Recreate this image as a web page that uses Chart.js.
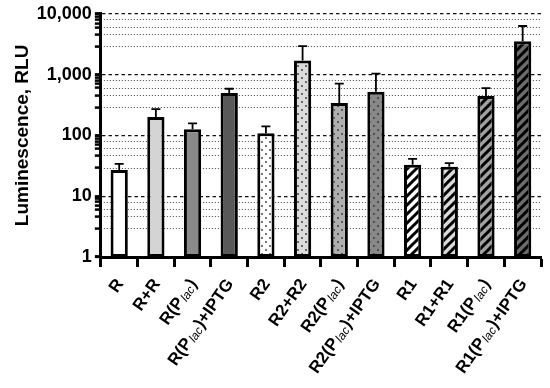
<!DOCTYPE html>
<html>
<head>
<meta charset="utf-8">
<script src="https://cdn.jsdelivr.net/npm/chart.js@4/dist/chart.umd.min.js"></script>
<style>
  html, body { margin: 0; padding: 0; background: #fff; }
  #wrap { width: 550px; height: 388px; }
</style>
</head>
<body>
<div id="wrap"><canvas id="lumChart"></canvas></div>
<script>
/* ========= DATA ========= */

// {..} marks the italic subscript part of a label
const categories = [
  "R", "R+R", "R(P{lac})", "R(P{lac})+IPTG",
  "R2", "R2+R2", "R2(P{lac})", "R2(P{lac})+IPTG",
  "R1", "R1+R1", "R1(P{lac})", "R1(P{lac})+IPTG"
];
const means = [27, 200, 126, 500, 108, 1700, 340, 520, 33, 30.5, 445, 3550];
const errUp = [7, 70, 32, 85, 33, 1240, 370, 520, 8, 4.5, 155, 2750];

const majorTicks = [1, 10, 100, 1000, 10000];
const minorTicks = [2.9, 4.6, 6, 7, 8, 9];
const minorGrid = [2.9, 4.6, 6, 8];
const tickLabels = ["1", "10", "100", "1,000", "10,000"];

const fillColors = ["#ffffff", "#d4d4d4", "#8a8a8a", "#595959",
                    "#ffffff", "#dcdcdc", "#afafaf", "#888888",
                    "#ffffff", "#dadada", "#a0a0a0", "#6c6c6c"];
const fillKinds = ["none", "none", "none", "none",
                   "dots", "dots", "dots", "dots",
                   "stripes", "stripes", "stripes", "stripes"];

const FONT = "Arial, 'Liberation Sans', sans-serif";


/* ========= PATTERNS ========= */

function makeFill(base, kind) {
  if (kind === "none") return base;
  const c = document.createElement("canvas");
  const s = kind === "dots" ? 8 : 9;
  c.width = s; c.height = s;
  const g = c.getContext("2d");
  g.fillStyle = base;
  g.fillRect(0, 0, s, s);
  if (kind === "dots") {
    g.fillStyle = "#333";
    [[2, 2], [6, 6]].forEach(p => {
      g.beginPath();
      g.arc(p[0], p[1], 0.9, 0, Math.PI * 2);
      g.fill();
    });
  } else {
    g.strokeStyle = "#000";
    g.lineWidth = 3;
    g.beginPath();
    g.moveTo(-2, s + 2); g.lineTo(s + 2, -2);
    g.moveTo(-2, 2); g.lineTo(2, -2);
    g.moveTo(s - 2, s + 2); g.lineTo(s + 2, s - 2);
    g.stroke();
  }
  return g.createPattern(c, "repeat");
}

const fills = fillColors.map((col, i) => makeFill(col, fillKinds[i]));


/* ========= PLUGINS ========= */

const errorBars = {
  id: "errorBars",
  afterDatasetsDraw(chart) {
    const ctx = chart.ctx;
    const y = chart.scales.y;
    const meta = chart.getDatasetMeta(0);
    ctx.save();
    ctx.strokeStyle = "#000";
    ctx.lineWidth = 1.8;
    meta.data.forEach((bar, i) => {
      const top = y.getPixelForValue(means[i] + errUp[i]);
      ctx.beginPath();
      ctx.moveTo(bar.x, bar.y);
      ctx.lineTo(bar.x, top);
      ctx.moveTo(bar.x - 4.5, top);
      ctx.lineTo(bar.x + 4.5, top);
      ctx.stroke();
    });
    ctx.restore();
  }
};

function splitLabel(str) {
  const parts = [];
  str.split(/(\{[^}]*\})/).forEach(p => {
    if (!p) return;
    if (p[0] === "{") parts.push({ text: p.slice(1, -1), sub: true });
    else parts.push({ text: p, sub: false });
  });
  return parts;
}

const richLabels = {
  id: "richLabels",
  afterDraw(chart) {
    const ctx = chart.ctx;
    const x = chart.scales.x;
    const mainFont = "bold 17px " + FONT;
    const subFont = "italic 12px " + FONT;
    ctx.save();
    ctx.fillStyle = "#000";
    ctx.textBaseline = "middle";
    ctx.textAlign = "left";
    categories.forEach((lab, i) => {
      const parts = splitLabel(lab);
      let total = 0;
      parts.forEach(p => {
        ctx.font = p.sub ? subFont : mainFont;
        p.w = ctx.measureText(p.text).width + (p.sub ? 1.5 : 0);
        total += p.w;
      });
      ctx.save();
      ctx.translate(x.getPixelForTick(i) + 1, x.top + 24);
      ctx.rotate(-55 * Math.PI / 180);
      let pos = -total;
      parts.forEach(p => {
        ctx.font = p.sub ? subFont : mainFont;
        ctx.fillText(p.text, pos + (p.sub ? 1 : 0), p.sub ? 3 : 0);
        pos += p.w;
      });
      ctx.restore();
    });
    ctx.restore();
  }
};


/* ========= CHART ========= */

function loadChart() {
  const canvas = document.getElementById("lumChart");

  new Chart(canvas, {
    type: "bar",
    data: {
      labels: categories.map(c => c.replace(/[{}]/g, "")),
      datasets: [{
        data: means,
        backgroundColor: fills,
        borderColor: "#000",
        borderWidth: 3,
        borderSkipped: false,
        barPercentage: 0.47,
        categoryPercentage: 1
      }]
    },
    options: {
      responsive: true,
      maintainAspectRatio: false,
      animation: false,
      layout: { padding: { left: 7, right: 9, top: 8, bottom: 121 } },
      plugins: {
        legend: { display: false },
        tooltip: { enabled: false }
      },
      scales: {
        x: {
          type: "category",
          ticks: { display: false },
          grid: {
            drawOnChartArea: false,
            drawTicks: true,
            tickLength: 10,
            tickWidth: 3,
            tickColor: "#000"
          },
          border: { display: true, width: 3, color: "#000" }
        },
        y: {
          type: "logarithmic",
          min: 1,
          max: 10000,
          afterBuildTicks: scale => {
            scale.ticks = majorTicks.concat(minorTicks.flatMap(m => [m, m * 10, m * 100, m * 1000]))
              .sort((a, b) => a - b)
              .map(v => ({ value: v }));
          },
          ticks: {
            color: "#000",
            padding: 3,
            autoSkip: false,
            font: { family: FONT, size: 18, weight: "bold" },
            callback: v => {
              const k = majorTicks.indexOf(v);
              return k >= 0 ? tickLabels[k] : "";
            }
          },
          grid: {
            drawTicks: true,
            tickLength: 6,
            lineWidth: 1.2,
            color: ctx => {
              const v = ctx.tick && ctx.tick.value;
              return (majorTicks.includes(v) && v !== 1) ? "#111" : "rgba(0,0,0,0)";
            },
            tickColor: "#000",
            tickWidth: ctx => majorTicks.includes(ctx.tick && ctx.tick.value) ? 3 : 2.5
          },
          border: { display: true, width: 3, color: "#000", dash: [3.5, 3] },
          title: {
            display: true,
            text: "Luminescence, RLU",
            color: "#000",
            padding: { top: 4, bottom: 0 },
            font: { family: FONT, size: 19, weight: "bold" }
          }
        },
        y2: {
          type: "logarithmic",
          position: "right",
          min: 1,
          max: 10000,
          afterBuildTicks: scale => {
            scale.ticks = minorGrid.flatMap(m => [m, m * 10, m * 100, m * 1000])
              .sort((a, b) => a - b)
              .map(v => ({ value: v }));
          },
          ticks: { display: false },
          grid: { drawTicks: false, color: "#444", lineWidth: 1 },
          border: { display: false, dash: [1, 2] }
        }
      }
    },
    plugins: [errorBars, richLabels]
  });
}


/* ========= INIT ========= */

document.addEventListener("DOMContentLoaded", () => {
  loadChart();
});
</script>
</body>
</html>
